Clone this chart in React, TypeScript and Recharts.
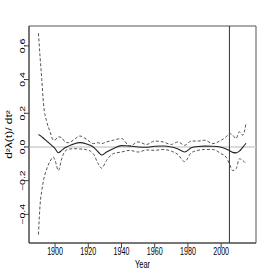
import { LineChart, Line, XAxis, YAxis, ReferenceLine, ReferenceArea, Label } from 'recharts';

const years = [
  1890, 1891, 1892, 1893, 1895, 1897, 1899, 1900, 1902, 1904, 1906, 1908, 1911, 1915, 1919, 1923, 1926, 1928, 1931, 1935,
  1940, 1945, 1950, 1955, 1960, 1965, 1970, 1974, 1978, 1982, 1986, 1990, 1995, 2000, 2003, 2005, 2007, 2009, 2011, 2013, 2015,
];
const estimate = [
  0.075, 0.068, 0.06, 0.052, 0.035, 0.018, 0.0, -0.01, -0.034, -0.02, -0.005, 0.005, 0.017, 0.026, 0.018, 0.0, -0.03, -0.048, -0.03, -0.01,
  0.008, 0.006, 0.0, -0.002, 0.004, 0.006, 0.0, -0.012, -0.03, -0.005, 0.003, 0.005, 0.004, -0.002, -0.012, -0.022, -0.032, -0.035, -0.025, -0.002, 0.022,
];
const upper = [
  0.675, 0.53, 0.4, 0.26, 0.15, 0.09, 0.04, 0.042, 0.06, 0.055, 0.03, 0.025, 0.04, 0.065, 0.045, 0.02, 0.025, 0.02, 0.03, 0.04,
  0.05, 0.005, 0.03, 0.015, 0.035, 0.03, 0.015, 0.03, 0.01, 0.035, 0.035, 0.04, 0.02, 0.04, 0.06, 0.08, 0.07, 0.05, 0.09, 0.07, 0.14,
];
const lower = [
  -0.52, -0.34, -0.26, -0.2, -0.13, -0.085, -0.06, -0.08, -0.14, -0.07, -0.025, -0.014, -0.01, -0.012, -0.016, -0.04, -0.1, -0.126, -0.08, -0.04,
  -0.03, -0.02, -0.03, -0.018, -0.02, -0.015, -0.025, -0.045, -0.087, -0.035, -0.02, -0.015, -0.015, -0.04, -0.06, -0.1, -0.14, -0.13, -0.07, -0.08, -0.1,
];
const xTicks = [1900, 1920, 1940, 1960, 1980, 2000];
const yTicks = [-0.4, -0.2, 0.0, 0.2, 0.4, 0.6];
const cutYear = 2005;

const data = years.map((year, i) => ({ year, est: estimate[i], hi: upper[i], lo: lower[i] }));

const FONT = '"Liberation Sans", Arial, sans-serif';
const SQUEEZE = 0.68;

const XTick = (props: any) => {
  const { x, y, payload } = props;
  return (
    <g transform={`translate(${x},${y + 5}) scale(${SQUEEZE},1)`}>
      <text textAnchor="middle" fontFamily={FONT} fontSize={10.5} fill="#000">{payload.value}</text>
    </g>
  );
};

const YTick = (props: any) => {
  const { x, y, payload } = props;
  const label = payload.value.toFixed(1).replace('-', '\u2212');
  return (
    <g transform={`translate(${x + 2.5},${y}) scale(${SQUEEZE},1) rotate(-90)`}>
      <text textAnchor="middle" fontFamily={FONT} fontSize={10.5} fill="#000">{label}</text>
    </g>
  );
};

export default function App() {
  return (
    <div style={{ position: 'absolute', left: 0, top: 0, background: '#fff' }}>
      <LineChart width={266} height={277} data={data} margin={{ top: 26, right: 10, left: 0, bottom: 0 }}>
        <XAxis
          dataKey="year"
          type="number"
          domain={[1884.3, 2021]}
          ticks={xTicks}
          interval={0}
          allowDataOverflow
          height={34}
          stroke="#444"
          tickSize={5}
          tick={<XTick />}
        >
          <Label
            content={() => (
              <g transform="translate(142.5,268) scale(0.68,1)">
                <text textAnchor="middle" fontFamily={FONT} fontSize={11} fill="#000">Year</text>
              </g>
            )}
          />
        </XAxis>
        <YAxis
          type="number"
          domain={[-0.57, 0.718]}
          ticks={yTicks}
          interval={0}
          allowDataOverflow
          width={29}
          stroke="#444"
          tickSize={5}
          tick={<YTick />}
        >
          <Label
            content={() => (
              <g transform="translate(11.5,134.5) scale(0.68,1) rotate(-90)">
                <text textAnchor="middle" fontFamily={FONT} fontSize={12} fill="#000">d²λ(t)/ dt²</text>
              </g>
            )}
          />
        </YAxis>
        <ReferenceLine y={0} stroke="#cfcfcf" strokeWidth={1.5} />
        <ReferenceArea x1={1884.3} x2={2021} y1={-0.57} y2={0.718} fill="none" stroke="#555" strokeWidth={1} />
        <ReferenceLine x={cutYear} stroke="#333" strokeWidth={1} />
        <Line type="monotone" dataKey="hi" stroke="#555" strokeWidth={1} strokeDasharray="3 2" dot={false} isAnimationActive={false} />
        <Line type="monotone" dataKey="lo" stroke="#555" strokeWidth={1} strokeDasharray="3 2" dot={false} isAnimationActive={false} />
        <Line type="monotone" dataKey="est" stroke="#222" strokeWidth={1.1} dot={false} isAnimationActive={false} />
      </LineChart>
    </div>
  );
}
